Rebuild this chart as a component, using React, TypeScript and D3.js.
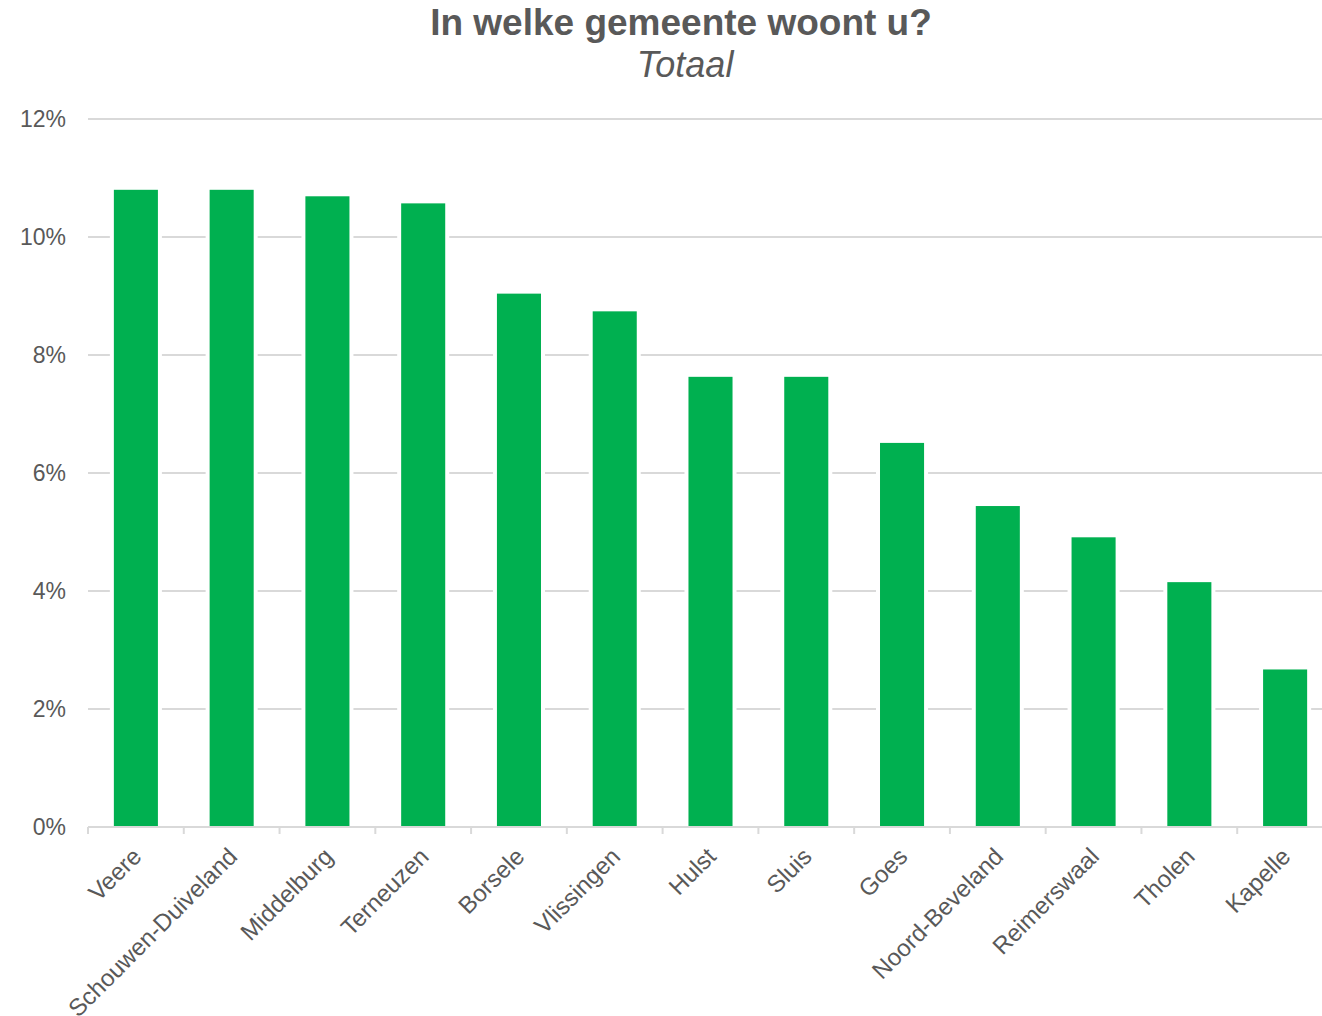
import React, { useEffect, useRef } from 'react';
import * as d3 from 'd3';

const WIDTH = 1322;
const HEIGHT = 1016;
const MARGIN = { top: 119, left: 88, bottom: 189 };
const PLOT_RIGHT = 1333; // the last band runs past the picture edge, as in the source

const gemeenten = [
    'Veere', 'Schouwen-Duiveland', 'Middelburg', 'Terneuzen', 'Borsele', 'Vlissingen',
    'Hulst', 'Sluis', 'Goes', 'Noord-Beveland', 'Reimerswaal', 'Tholen', 'Kapelle',
];
const aandeel = [10.8, 10.8, 10.69, 10.57, 9.04, 8.74, 7.63, 7.63, 6.51, 5.44, 4.91, 4.15, 2.67];
const yTicks = [0, 2, 4, 6, 8, 10, 12];

const TITLE = 'In welke gemeente woont u?';
const SUBTITLE = 'Totaal';

const GREEN = '#00b050';
const TEXT = '#595959';
const GRID = '#d9d9d9';
const FONT = '"Liberation Sans", Arial, sans-serif';

const App: React.FC = () => {
    const svgRef = useRef<SVGSVGElement>(null);

    useEffect(() => {
        if (!svgRef.current) return;
        const svg = d3.select(svgRef.current);
        svg.selectAll('*').remove();

        const y0 = HEIGHT - MARGIN.bottom; // 827

        const x = d3.scaleBand<string>()
            .domain(gemeenten)
            .range([MARGIN.left, PLOT_RIGHT])
            .paddingInner(0.54)
            .paddingOuter(0.27);
        const y = d3.scaleLinear().domain([0, 12]).range([y0, MARGIN.top]);

        // titel
        svg.append('text')
            .attr('x', 681).attr('y', 35)
            .attr('text-anchor', 'middle')
            .style('font-family', FONT).style('font-size', '37px').style('font-weight', 'bold')
            .style('fill', TEXT)
            .text(TITLE);
        svg.append('text')
            .attr('x', 685).attr('y', 77)
            .attr('text-anchor', 'middle')
            .style('font-family', FONT).style('font-size', '36px').style('font-style', 'italic')
            .style('fill', TEXT)
            .text(SUBTITLE);

        // rasterlijnen
        svg.append('g').selectAll('line').data(yTicks.filter(t => t > 0)).enter()
            .append('line')
            .attr('x1', MARGIN.left).attr('x2', WIDTH)
            .attr('y1', d => y(d)).attr('y2', d => y(d))
            .attr('stroke', GRID).attr('stroke-width', 2);

        // y-as labels
        svg.append('g').selectAll('text').data(yTicks).enter()
            .append('text')
            .attr('x', 66).attr('y', d => y(d))
            .attr('dy', '0.36em')
            .attr('text-anchor', 'end')
            .style('font-family', FONT).style('font-size', '23px').style('fill', TEXT)
            .text(d => `${d}%`);

        // staven, met een witte rand die de rasterlijnen onderbreekt
        const bars = svg.append('g').selectAll('g').data(gemeenten).enter().append('g');
        bars.append('rect')
            .attr('x', d => x(d)! - 4)
            .attr('y', (d, i) => y(aandeel[i]))
            .attr('width', x.bandwidth() + 8)
            .attr('height', (d, i) => y0 - y(aandeel[i]))
            .attr('fill', 'white');
        bars.append('rect')
            .attr('x', d => x(d)!)
            .attr('y', (d, i) => y(aandeel[i]))
            .attr('width', x.bandwidth())
            .attr('height', (d, i) => y0 - y(aandeel[i]))
            .attr('fill', GREEN);

        // x-as
        const step = x.step();
        const tickXs = gemeenten.map((d, i) => MARGIN.left + i * step);
        svg.append('line')
            .attr('x1', MARGIN.left).attr('x2', WIDTH)
            .attr('y1', y0).attr('y2', y0)
            .attr('stroke', GRID).attr('stroke-width', 2);
        svg.append('g').selectAll('line').data(tickXs).enter()
            .append('line')
            .attr('x1', d => d).attr('x2', d => d)
            .attr('y1', y0).attr('y2', y0 + 7)
            .attr('stroke', GRID).attr('stroke-width', 2);

        svg.append('g').selectAll('text').data(gemeenten).enter()
            .append('text')
            .attr('transform', d => `translate(${x(d)! + x.bandwidth() / 2 + 1},${y0 + 25}) rotate(-45)`)
            .attr('dy', '0.35em')
            .attr('text-anchor', 'end')
            .style('font-family', FONT).style('font-size', '24px').style('fill', TEXT)
            .text(d => d);
    }, []);

    return (
        <svg
            ref={svgRef}
            width={WIDTH}
            height={HEIGHT}
            style={{ position: 'absolute', left: 0, top: 0, background: 'white' }}
        />
    );
};

export default App;
